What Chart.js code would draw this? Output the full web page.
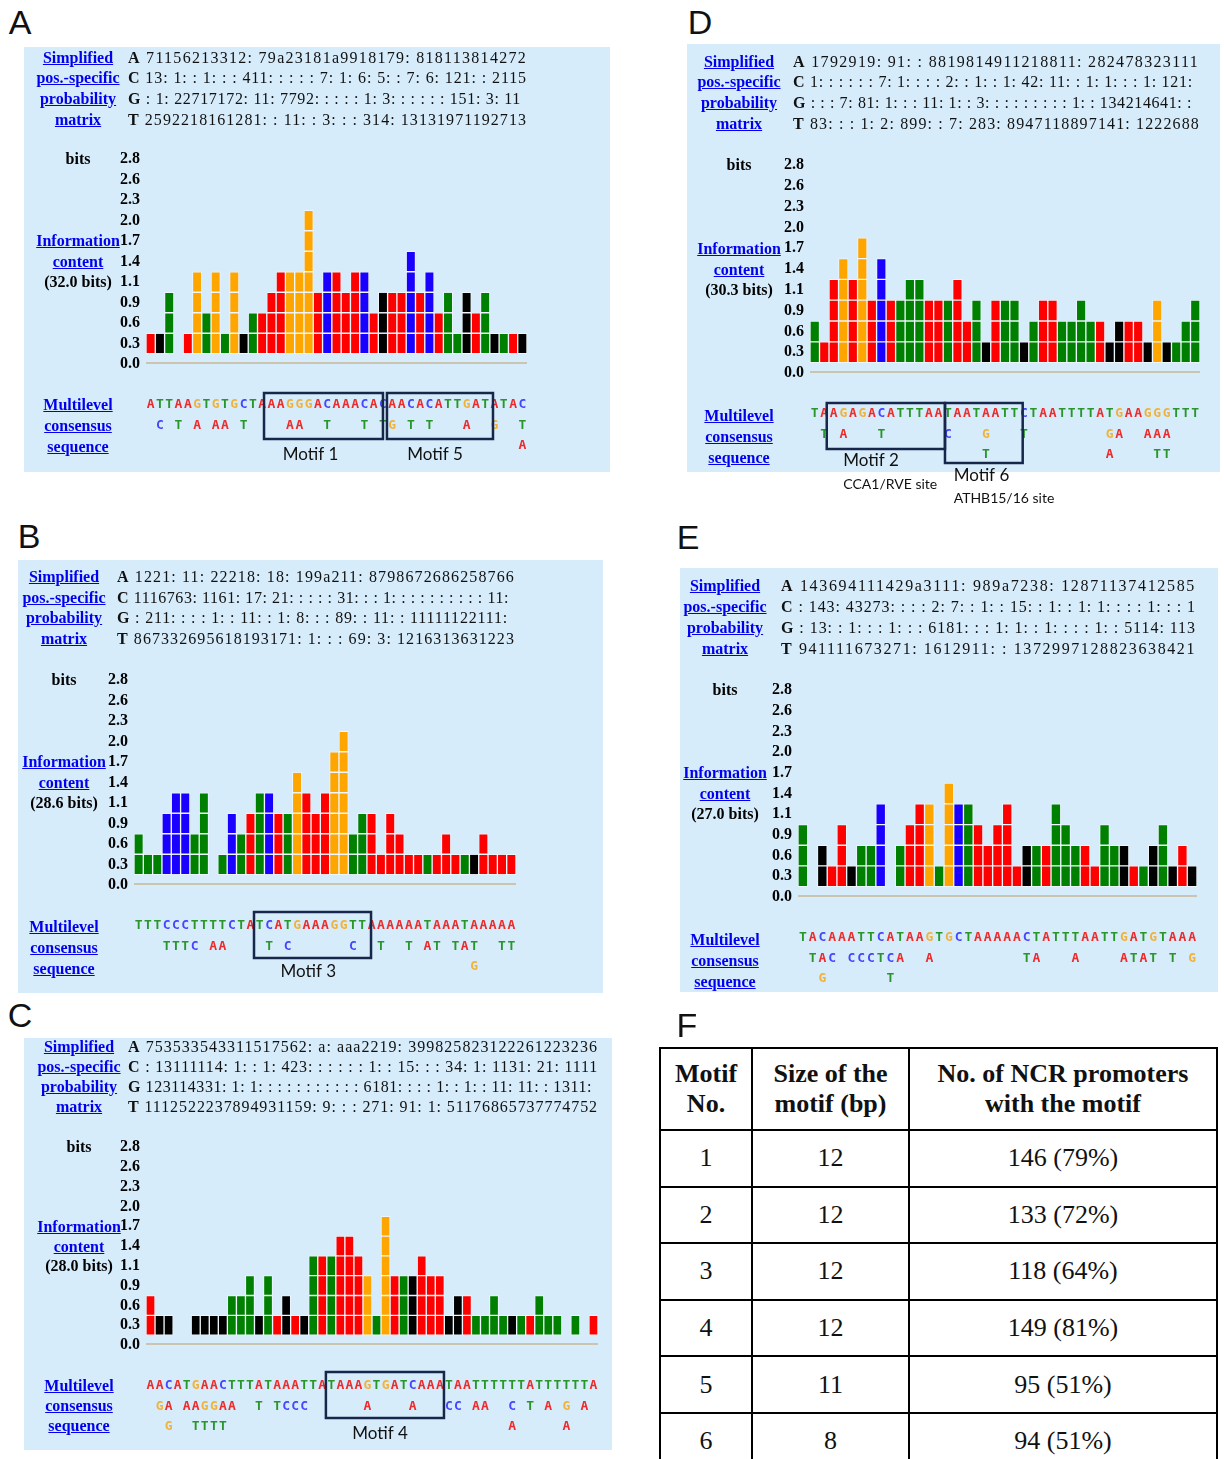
<!DOCTYPE html>
<html>
<head>
<meta charset="utf-8">
<script src="https://cdn.jsdelivr.net/npm/chart.js@4.4.1/dist/chart.umd.min.js"></script>
<style>
  html, body { margin: 0; padding: 0; background: #fff; }
  body { width: 1224px; height: 1459px; position: relative; overflow: hidden; }
  .bg { position: absolute; background: #d6ecfa; z-index: 0; }
  canvas.cv { position: absolute; z-index: 1; }
  .t { position: absolute; white-space: nowrap; line-height: 1; z-index: 2; }
  .lnk { font: bold 16px 'Liberation Serif', serif; color: #0000ee; text-decoration: underline; }
  .lab { font: bold 16px 'Liberation Serif', serif; color: #000; }
  .mat { font: 16px 'Liberation Serif', serif; color: #111; }
  .pl { font: 34px 'Liberation Sans Narrow', 'Liberation Sans', sans-serif; color: #111; }
  #tbl { position: absolute; left: 659px; top: 1047px; border-collapse: collapse; z-index: 2; }
  #tbl td, #tbl th { border: 2px solid #000; text-align: center; padding: 0; color: #111; }
  #tbl th { font: bold 26px 'Liberation Serif', serif; line-height: 30px; height: 80px; }
  #tbl td { font: 26px 'Liberation Serif', serif; height: 54.6px; }
</style>
</head>
<body>
<script>
// ---------- shared axis labels (information content, bits) ----------
const tickLabels = ['0.0', '0.3', '0.6', '0.9', '1.1', '1.4', '1.7', '2.0', '2.3', '2.6', '2.8'];

// ---------- Panel A ----------
const heightsA = [1,1,3,0,1,4,2,4,1,4, 1,2,2,3,4,4,4,7,3,4, 4,3,4,4,2,3,3,3,5,3, 4,2,3,1,3,2,3,1,1,1, 1];
const colorsA  = ['r','k','g','','r','o','g','o','g','o', 'k','g','r','r','r','o','o','o','r','b', 'r','r','r','b','r','k','r','r','b','r', 'b','r','g','g','k','r','g','k','g','r', 'k'];
const consensusA = [
  'ATTAAGTGTGCTAAAGGGACAAACACAACACATTGATATAC',
  ' C T A AA T    AA  T   T TG T T   A  G  T',
  '                                        A'
];
const matrixA = [
  ['A', '71156213312: 79a23181a9918179: 818113814272'],
  ['C', '13: 1: : 1: : : 411: : : : : 7: 1: 6: 5: : 7: 6: 121: : 2115'],
  ['G', ': 1: 22717172: 11: 7792: : : : : 1: 3: : : : : : 151: 3: 11'],
  ['T', '2592218161281: : 11: : 3: : : 314: 13131971192713']
];
const motifsA = [
  { name: 'Motif 1', from: 12.7, to: 25.5, labelAt: 17.7 },
  { name: 'Motif 5', from: 25.93, to: 37.34, labelAt: 31.1 }
];

// ---------- Panel B ----------
const heightsB = [2,1,1,3,4,4,2,4,0,1, 3,2,3,4,4,3,3,5,4,3, 4,6,7,2,3,3,1,3,2,1, 1,1,1,2,1,1,1,2,1,1, 1];
const colorsB  = ['g','g','g','b','b','b','g','g','','g', 'b','g','r','g','b','r','g','o','r','r', 'r','o','o','g','g','r','r','r','r','r', 'r','g','r','r','r','g','k','r','r','r', 'r'];
const consensusB = [
  'TTTCCCTTTTCTATCATGAAAGGTTAAAAAATAAATAAAAA',
  '   TTTC AA    T C      C  T  T AT TAT  TT',
  '                                    G    '
];
const matrixB = [
  ['A', '1221: 11: 22218: 18: 199a211: 8798672686258766'],
  ['C', '1116763: 1161: 17: 21: : : : : 31: : : 1: : : : : : : : : : 11:'],
  ['G', ': 211: : : : 1: : 11: : 1: 8: : : 89: : 11: : 11111122111:'],
  ['T', '867332695618193171: 1: : : 69: 3: 1216313631223']
];
const motifsB = [
  { name: 'Motif 3', from: 12.88, to: 25.44, labelAt: 18.7 }
];

// ---------- Panel C ----------
const heightsC = [2,1,1,0,0,1,1,1,1,2, 2,3,1,3,1,2,1,1,4,4, 4,5,5,4,3,1,6,3,3,3, 4,3,3,1,2,2,1,1,2,1, 1,1,1,2,1,1,0,1,0,1];
const colorsC  = ['r','k','k','','','k','k','k','k','g', 'g','g','k','g','r','k','r','k','g','r', 'g','r','r','r','o','g','o','r','g','k', 'r','r','r','k','k','r','g','g','g','g', 'k','g','r','g','g','g','','g','','r'];
const consensusC = [
  'AACATGAACTTTATAAATTATAAAGTGATCAAATAATTTTTTATTTTTTA',
  ' GA AAGGAA  T TCCC      A    A   CC AA  C T A G A ',
  '  G  TTTT                               A     A   '
];
const matrixC = [
  ['A', '753533543311517562: a: aaa2219: 399825823122261223236'],
  ['C', ': 13111114: 1: : 1: 423: : : : : : 1: : 15: : : 34: 1: 1131: 21: 1111'],
  ['G', '123114331: 1: 1: : : : : : : : : : : 6181: : : : 1: : 1: : 11: 11: : 1311:'],
  ['T', '1112522237894931159: 9: : : 271: 91: 1: 51176865737774752']
];
const motifsC = [
  { name: 'Motif 4', from: 19.9, to: 32.96, labelAt: 25.9 }
];

// ---------- Panel D ----------
const heightsD = [2,1,4,5,4,6,3,5,3,3, 4,4,3,3,3,4,2,3,1,3, 3,3,1,2,3,3,2,2,3,2, 2,1,2,2,2,1,3,1,1,2, 3];
const colorsD  = ['g','r','r','o','r','o','r','b','r','g', 'g','g','r','r','g','r','r','g','k','r', 'g','g','k','g','r','r','g','g','g','g', 'r','k','k','r','r','k','o','k','g','g', 'g'];
const consensusD = [
  'TAAGAGACATTTAATAATAATTCTAATTTTATGAAGGGTTT',
  ' T A   T      C   G   T        GA  AAA   ',
  '                  T            A    TT   '
];
const matrixD = [
  ['A', '1792919: 91: : 8819814911218811: 282478323111'],
  ['C', '1: : : : : : 7: 1: : : : 2: : 1: : 1: 42: 11: : 1: 1: : : 1: 121:'],
  ['G', ': : : 7: 81: 1: : : 11: 1: : 3: : : : : : : : : 1: : 134214641: :'],
  ['T', '83: : : 1: 2: 899: : 7: 283: 8947118897141: 1222688']
];
const motifsD = [
  { name: 'Motif 2', site: 'CCA1/RVE site', from: 1.76, to: 14.19, labelAt: 3.5, align: 'left', boxBottom: 76, labelY: 88, siteY: 111 },
  { name: 'Motif 6', site: 'ATHB15/16 site', from: 14.19, to: 22.36, labelAt: 15.1, align: 'left', boxBottom: 90, labelY: 103, siteY: 125 }
];

// ---------- Panel E ----------
const heightsE = [3,0,2,1,3,1,2,2,4,0, 2,3,4,4,1,5,4,4,3,2, 3,4,1,2,2,2,4,3,2,2, 1,3,2,2,1,1,2,3,1,2, 1];
const colorsE  = ['g','','k','r','r','k','g','g','b','', 'g','r','r','o','g','o','b','g','r','r', 'r','r','r','k','g','r','g','g','g','r', 'r','g','g','k','r','g','k','g','k','r', 'k'];
const consensusE = [
  'TACAAATTCATAAGTGCTAAAAACTATTTAATTGATGTAAA',
  ' TAC CCCTCA  A         TA   A    ATAT T G',
  '  G      T                               '
];
const matrixE = [
  ['A', '143694111429a3111: 989a7238: 12871137412585'],
  ['C', ': 143: 43273: : : : 2: 7: : 1: : 15: : 1: : 1: 1: : : : 1: : : 1'],
  ['G', ': 13: : 1: : : 1: : : 6181: : : 1: 1: : 1: : : : 1: : 5114: 113'],
  ['T', '941111673271: 1612911: : 1372997128823638421']
];
const motifsE = [];

// ---------- Panel F table ----------
const motifNumbers = [1, 2, 3, 4, 5, 6];
const motifSizes = [12, 12, 12, 12, 11, 8];
const promoterCounts = [146, 133, 118, 149, 95, 94];
const promoterPercents = [79, 72, 64, 81, 51, 51];

// ---------- styling ----------
const barPalette = { r: '#ff0000', b: '#1a00ff', g: '#008000', o: '#ffa500', k: '#000000', '': 'rgba(0,0,0,0)' };
const letterPalette = { A: '#ee2a2a', C: '#4646ff', G: '#f0b23c', T: '#2a952a' };
const MAX_BLOCKS = 7;
const Y_AXIS_W = 40;

// draws the baseline, multilevel consensus letters and motif boxes
const panelDecor = {
  id: 'panelDecor',
  afterDatasetsDraw(chart, args, opts) {
    const { ctx, chartArea, scales: { x, y } } = chart;
    const base = y.getPixelForValue(0);
    const edge = e => x.getPixelForValue(e - 0.5);
    ctx.save();
    ctx.strokeStyle = '#cbc4ae';
    ctx.lineWidth = 2;
    ctx.beginPath();
    ctx.moveTo(chartArea.left, base - 1);
    ctx.lineTo(chartArea.right, base - 1);
    ctx.stroke();

    ctx.font = 'bold 13px "DejaVu Sans Mono", monospace';
    ctx.textAlign = 'center';
    ctx.textBaseline = 'middle';
    opts.rows.forEach((row, r) => {
      const yy = base + [41, 61.5, 82][r];
      [...row].forEach((ch, i) => {
        if (ch === ' ') return;
        ctx.fillStyle = letterPalette[ch];
        ctx.fillText(ch, x.getPixelForValue(i), yy);
      });
    });

    opts.motifs.forEach(m => {
      const top = opts.boxTop, bottom = m.boxBottom || opts.boxBottom;
      ctx.strokeStyle = '#17264b';
      ctx.lineWidth = 2.5;
      ctx.strokeRect(edge(m.from), base + top, edge(m.to) - edge(m.from), bottom - top);
      ctx.fillStyle = '#111';
      ctx.textAlign = m.align || 'center';
      ctx.font = '17px Lato, "Open Sans", sans-serif';
      ctx.fillText(m.name, edge(m.labelAt), base + (m.labelY || opts.labelY));
      if (m.site) {
        ctx.font = '14px Lato, "Open Sans", sans-serif';
        ctx.fillText(m.site, edge(m.labelAt), base + m.siteY);
      }
    });
    ctx.restore();
  }
};

function put(html, x, y, cls, anchor) {
  const d = document.createElement('div');
  d.className = 't ' + cls;
  d.innerHTML = html;
  d.style.left = x + 'px';
  d.style.top = y + 'px';
  d.style.transform = anchor === 'l' ? 'translate(0,-50%)' : 'translate(-50%,-50%)';
  document.body.appendChild(d);
  return d;
}

function buildPanel(p) {
  const bg = document.createElement('div');
  bg.className = 'bg';
  Object.assign(bg.style, { left: p.bg[0] + 'px', top: p.bg[1] + 'px', width: p.bg[2] + 'px', height: p.bg[3] + 'px' });
  document.body.appendChild(bg);

  put(p.letter, p.letterPos[0], p.letterPos[1], 'pl');

  ['Simplified', 'pos.-specific', 'probability', 'matrix'].forEach((s, i) => put(s, p.cx, p.rowsY[i], 'lnk'));
  p.matrix.forEach(([base, vals], i) => {
    const d = put('<b>' + base + '</b> ' + vals, p.matLeft, p.rowsY[i], 'mat', 'l');
    const w = d.getBoundingClientRect().width;
    const n = (base + ' ' + vals).length;
    d.style.letterSpacing = ((p.matRights[i] - p.matLeft - w) / n) + 'px';
  });
  put('bits', p.cx, p.plot[2], 'lab');
  put('Information', p.cx, p.infoY[0], 'lnk');
  put('content', p.cx, p.infoY[1], 'lnk');
  put(p.total, p.cx, p.infoY[2], 'lab');
  ['Multilevel', 'consensus', 'sequence'].forEach((s, i) => put(s, p.cx, p.multiY[i], 'lnk'));

  const cv = p.canvas;
  const canvas = document.createElement('canvas');
  canvas.className = 'cv';
  canvas.width = cv[2];
  canvas.height = cv[3];
  Object.assign(canvas.style, { left: cv[0] + 'px', top: cv[1] + 'px', width: cv[2] + 'px', height: cv[3] + 'px' });
  document.body.appendChild(canvas);

  const [pl, pr, pt, pb] = p.plot;
  const datasets = [];
  for (let k = 0; k < MAX_BLOCKS; k++) {
    datasets.push({
      data: p.heights.map(h => (h > k ? [k + 0.5, k + 1.5] : null)),
      backgroundColor: p.colors.map(c => barPalette[c]),
      borderColor: 'rgba(255,255,255,0.5)',
      borderWidth: 1,
      borderSkipped: false,
      barPercentage: 1,
      categoryPercentage: 1
    });
  }

  new Chart(canvas, {
    type: 'bar',
    data: { labels: p.heights.map((_, i) => String(i + 1)), datasets },
    plugins: [panelDecor],
    options: {
      responsive: false,
      animation: false,
      events: [],
      layout: {
        padding: {
          left: pl - cv[0] - Y_AXIS_W,
          right: cv[0] + cv[2] - pr,
          top: pt - cv[1],
          bottom: cv[1] + cv[3] - pb
        }
      },
      plugins: {
        legend: { display: false },
        tooltip: { enabled: false },
        panelDecor: { rows: p.consensus, motifs: p.motifs, boxTop: p.box[0], boxBottom: p.box[1], labelY: p.box[2] }
      },
      scales: {
        x: { type: 'category', display: false, stacked: true, offset: true, grid: { display: false } },
        y: {
          min: 0, max: 10, stacked: false,
          grid: { display: false, drawTicks: false },
          border: { display: false },
          afterFit: s => { s.width = Y_AXIS_W; },
          ticks: {
            stepSize: 1, autoSkip: false, padding: 6, color: '#000',
            font: { family: 'Liberation Serif', weight: 'bold', size: 16 },
            callback: v => tickLabels[v]
          }
        }
      }
    }
  });
}

const panels = [
  { letter: 'A', letterPos: [20, 22], bg: [24, 47, 586, 425], canvas: [24, 47, 586, 425], plot: [146, 527, 159, 364],
    cx: 78, rowsY: [58, 78, 99, 120], infoY: [241, 262, 282], multiY: [405, 426, 447], total: '(32.0 bits)',
    matLeft: 128, matRights: [527, 527, 521, 527], box: [29, 75, 91],
    heights: heightsA, colors: colorsA, consensus: consensusA, matrix: matrixA, motifs: motifsA },
  { letter: 'B', letterPos: [29, 536], bg: [18, 560, 585, 433], canvas: [18, 560, 585, 433], plot: [134, 516, 680, 885],
    cx: 64, rowsY: [577, 598, 618, 639], infoY: [762, 783, 803], multiY: [927, 948, 969], total: '(28.6 bits)',
    matLeft: 117, matRights: [515, 509, 508, 515], box: [27, 73, 87],
    heights: heightsB, colors: colorsB, consensus: consensusB, matrix: matrixB, motifs: motifsB },
  { letter: 'C', letterPos: [20, 1015], bg: [24, 1038, 588, 412], canvas: [24, 1038, 588, 412], plot: [146, 598, 1147, 1345],
    cx: 79, rowsY: [1047, 1067, 1087, 1107], infoY: [1227, 1247, 1266], multiY: [1386, 1406, 1426], total: '(28.0 bits)',
    matLeft: 128, matRights: [598, 598, 592, 598], box: [27, 73, 89],
    heights: heightsC, colors: colorsC, consensus: consensusC, matrix: matrixC, motifs: motifsC },
  { letter: 'D', letterPos: [700, 22], bg: [687, 44, 533, 428], canvas: [687, 44, 533, 466], plot: [810, 1200, 165, 373],
    cx: 739, rowsY: [62, 82, 103, 124], infoY: [249, 270, 290], multiY: [416, 437, 458], total: '(30.3 bits)',
    matLeft: 793, matRights: [1199, 1193, 1192, 1200], box: [30, 76, 88],
    heights: heightsD, colors: colorsD, consensus: consensusD, matrix: matrixD, motifs: motifsD },
  { letter: 'E', letterPos: [688, 537], bg: [680, 568, 538, 424], canvas: [680, 568, 538, 424], plot: [798, 1197, 690, 897],
    cx: 725, rowsY: [586, 607, 628, 649], infoY: [773, 794, 814], multiY: [940, 961, 982], total: '(27.0 bits)',
    matLeft: 781, matRights: [1196, 1196, 1196, 1196], box: [27, 73, 89],
    heights: heightsE, colors: colorsE, consensus: consensusE, matrix: matrixE, motifs: motifsE }
];

panels.forEach(buildPanel);

// ---------- Panel F ----------
put('F', 687, 1025, 'pl');
const tbl = document.createElement('table');
tbl.id = 'tbl';
let html = '<colgroup><col style="width:92px"><col style="width:157px"><col style="width:308px"></colgroup>';
html += '<tr><th>Motif<br>No.</th><th>Size of the<br>motif (bp)</th><th>No. of NCR promoters<br>with the motif</th></tr>';
motifNumbers.forEach((m, i) => {
  html += '<tr><td>' + m + '</td><td>' + motifSizes[i] + '</td><td>' + promoterCounts[i] + ' (' + promoterPercents[i] + '%)</td></tr>';
});
tbl.innerHTML = html;
document.body.appendChild(tbl);
</script>
</body>
</html>
